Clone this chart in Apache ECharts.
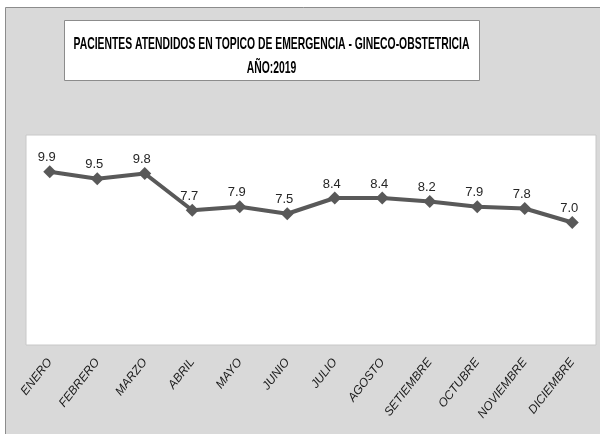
<!DOCTYPE html>
<html><head><meta charset="utf-8">
<script src="https://cdn.jsdelivr.net/npm/echarts@6/dist/echarts.min.js"></script>
<style>html,body{margin:0;padding:0;background:#fff}#c{width:600px;height:434px}</style>
</head><body><div id="c"></div>
<script>
var months = ['ENERO','FEBRERO','MARZO','ABRIL','MAYO','JUNIO','JULIO','AGOSTO','SETIEMBRE','OCTUBRE','NOVIEMBRE','DICIEMBRE'];
var values = [9.9, 9.5, 9.8, 7.7, 7.9, 7.5, 8.4, 8.4, 8.2, 7.9, 7.8, 7.0];
var titleLines = ['PACIENTES ATENDIDOS EN TOPICO DE EMERGENCIA - GINECO-OBSTETRICIA', 'AÑO:2019'];
var FONT = '"Liberation Sans", Arial, sans-serif';
var chart = echarts.init(document.getElementById('c'), null, {renderer: 'canvas'});
chart.setOption({
  animation: false,
  backgroundColor: '#ffffff',
  graphic: [
    {type: 'rect', z: -10, shape: {x: 5.5, y: 7.5, width: 600, height: 440},
     style: {fill: '#d9d9d9', stroke: '#8c8c8c', lineWidth: 1}},
    {type: 'rect', z: 5, shape: {x: 64.5, y: 20.5, width: 415, height: 60},
     style: {fill: '#ffffff', stroke: '#8c8c8c', lineWidth: 1}},
    {type: 'text', z: 10, x: 271.5, y: 44, scaleX: 0.61,
     style: {text: titleLines[0], x: 0, y: 0, align: 'center', verticalAlign: 'middle',
       font: 'bold 17px "Liberation Sans", Arial, sans-serif', fill: '#000'}},
    {type: 'text', z: 10, x: 271.5, y: 68, scaleX: 0.61,
     style: {text: titleLines[1], x: 0, y: 0, align: 'center', verticalAlign: 'middle',
       font: 'bold 17px "Liberation Sans", Arial, sans-serif', fill: '#000'}}
  ],
  grid: {left: 26, right: 4, top: 135, bottom: 89, show: true, backgroundColor: '#ffffff', borderColor: '#c8c8c8', borderWidth: 1},
  xAxis: {
    type: 'category', data: months, boundaryGap: true,
    axisLine: {show: false}, axisTick: {show: false},
    axisLabel: {rotate: 52, margin: 15, interval: 0, fontFamily: FONT, fontStyle: 'italic', fontSize: 12, color: '#1a1a1a'}
  },
  yAxis: {type: 'value', min: 0, max: 12, show: false, splitLine: {show: false}},
  series: [{
    type: 'line', data: values,
    symbol: 'diamond', symbolSize: 13,
    lineStyle: {color: '#595959', width: 4},
    itemStyle: {color: '#595959'},
    label: {show: true, position: 'top', distance: 1, offset: [-3, 0], formatter: function(p){return p.value.toFixed(1);},
      fontFamily: FONT, fontSize: 13, color: '#262626'}
  }]
});
</script></body></html>
